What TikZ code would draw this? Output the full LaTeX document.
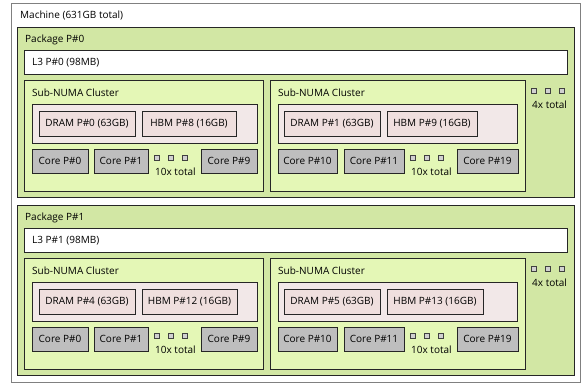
\documentclass[tikz,border=0pt]{standalone}
\usepackage{fontspec}
\setmainfont{Open Sans}
\usepackage{xcolor}
\definecolor{pkggreen}{HTML}{D2E7A4}
\definecolor{groupgreen}{HTML}{E4F7B6}
\definecolor{memgroup}{HTML}{F2E8E8}
\definecolor{numapink}{HTML}{EFDFDE}
\definecolor{coregray}{HTML}{BEBEBE}
\tikzset{
    topo-box/.style = {draw=black!85, line width=0.8pt, rectangle, anchor=north west, inner sep=0pt, outer sep=0pt, font=\fontsize{10}{12}\selectfont},
    machine-box/.style = {topo-box, draw=black!50, fill=white},
    package-box/.style = {topo-box, fill=pkggreen},
    cache-box/.style = {topo-box, fill=white, minimum height=24pt},
    group-box/.style = {topo-box, fill=groupgreen, minimum height=111pt},
    memory-box/.style = {topo-box, fill=memgroup, minimum height=39pt},
    numa-box/.style = {topo-box, fill=numapink, minimum height=25pt},
    core-box/.style = {topo-box, fill=coregray, minimum height=24pt},
    box-title/.style = {anchor=base west, inner sep=0pt, xshift=8pt, yshift=-16pt, font=\fontsize{10}{12}\selectfont},
    more-box/.style = {draw=black!75, fill=coregray!70, line width=0.6pt, minimum size=5pt, inner sep=0pt},
    more-text/.style = {anchor=base west, inner sep=0pt, font=\fontsize{10}{12}\selectfont},
}

\begin{document}
\begin{tikzpicture}[x=1pt, y=-1pt]
\useasboundingbox (0,0) rectangle (582,385);
\node[machine-box, minimum width=569pt, minimum height=379pt] (machine) at (11,3) {};
\node[box-title, xshift=1pt] at (machine.north west) {Machine (631GB total)};

\foreach \pk/\yo/\dA/\hA/\dB/\hB/\hw/\hv in {0/0/0/8/1/9/94/90, 1/178/4/12/5/13/95/96} {
    \node[package-box, minimum width=557pt, minimum height=170pt] (pkg\pk) at (17,27+\yo) {};
    \node[box-title] at (pkg\pk.north west) {Package P\#\pk};
    \node[cache-box, minimum width=543pt] (l3-\pk) at (24,50+\yo) {};
    \node[box-title] at (l3-\pk.north west) {L3 P\#\pk{} (98MB)};

    % first cluster
    \node[group-box, minimum width=239pt] (snc\pk-a) at (24,80+\yo) {};
    \node[box-title, yshift=-1pt] at (snc\pk-a.north west) {Sub-NUMA Cluster};
    \node[memory-box, minimum width=225pt] (mem\pk-a) at (32,104+\yo) {};
    \node[numa-box, minimum width=96pt] (dram\pk-a) at (39,111+\yo) {DRAM P\#\dA{} (63GB)};
    \node[numa-box, minimum width=\hw pt] (hbm\pk-a) at (142,111+\yo) {HBM P\#\hA{} (16GB)};
    \node[core-box, minimum width=56pt] (core\pk-a0) at (32,149+\yo) {Core P\#0};
    \node[core-box, minimum width=54pt] (core\pk-a1) at (94,149+\yo) {Core P\#1};
    \foreach \dx in {0,14,28}
        \node[more-box] at (157+\dx,158+\yo) {};
    \node[more-text] (more\pk-a) at (155,176+\yo) {10x total};
    \node[core-box, minimum width=56pt] (core\pk-a9) at (201,149+\yo) {Core P\#9};

    % second cluster
    \node[group-box, minimum width=255pt] (snc\pk-b) at (270,80+\yo) {};
    \node[box-title, yshift=-1pt] at (snc\pk-b.north west) {Sub-NUMA Cluster};
    \node[memory-box, minimum width=239pt] (mem\pk-b) at (278,104+\yo) {};
    \node[numa-box, minimum width=96pt] (dram\pk-b) at (284,111+\yo) {DRAM P\#\dB{} (63GB)};
    \node[numa-box, minimum width=\hv pt] (hbm\pk-b) at (387,111+\yo) {HBM P\#\hB{} (16GB)};
    \node[core-box, minimum width=59pt] (core\pk-b0) at (278,149+\yo) {Core P\#10};
    \node[core-box, minimum width=60pt] (core\pk-b1) at (344,149+\yo) {Core P\#11};
    \foreach \dx in {0,14,28}
        \node[more-box] at (413+\dx,158+\yo) {};
    \node[more-text] (more\pk-b) at (411,176+\yo) {10x total};
    \node[core-box, minimum width=61pt] (core\pk-b9) at (457,149+\yo) {Core P\#19};

    % remaining clusters
    \foreach \dx in {0,14,28}
        \node[more-box] at (534+\dx,91+\yo) {};
    \node[more-text] (snc\pk-more) at (532,109+\yo) {4x total};
}
\end{tikzpicture}
\end{document}
